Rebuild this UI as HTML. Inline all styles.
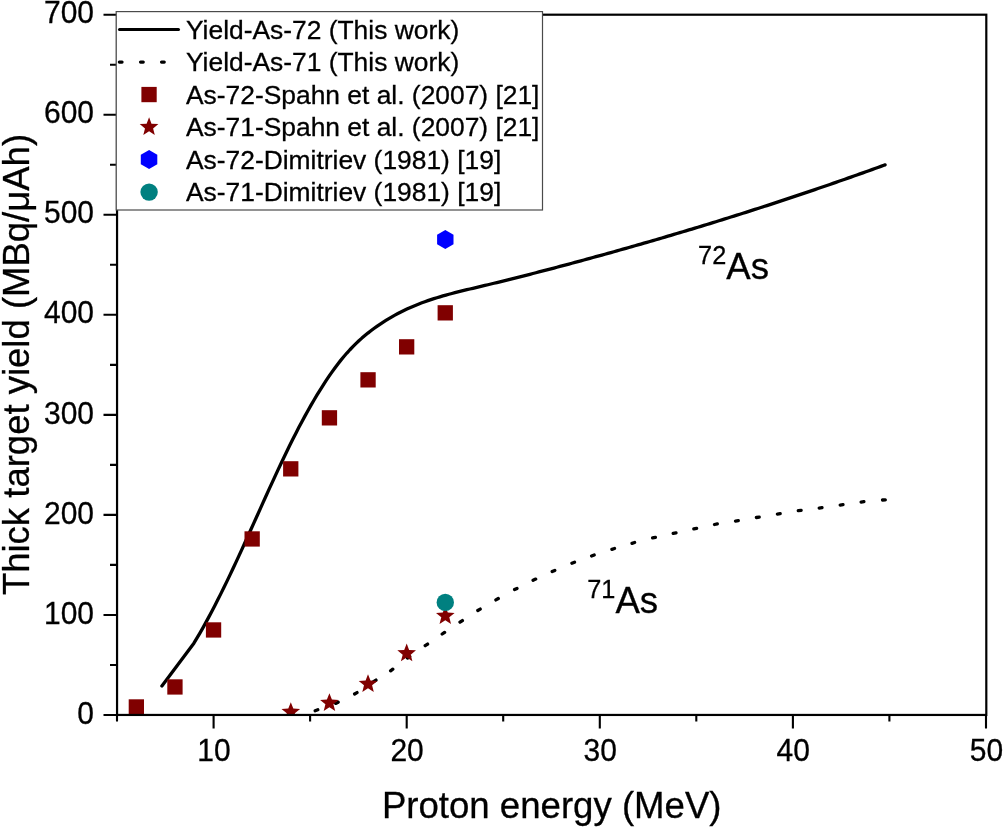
<!DOCTYPE html>
<html><head><meta charset="utf-8"><style>
html,body{margin:0;padding:0;background:#fff;width:1003px;height:828px;overflow:hidden}
svg{display:block}

text{font-family:"Liberation Sans",sans-serif;fill:#000;stroke:#000;stroke-width:0.3px}
</style></head><body>
<div style="will-change:transform;width:1003px;height:828px">
<svg width="1003" height="828" viewBox="0 0 1003 828">
<text x="94" y="0" text-anchor="end" transform="translate(0 723.6) scale(1 1.015)" font-size="30">0</text>
<text x="94" y="0" text-anchor="end" transform="translate(0 623.6) scale(1 1.015)" font-size="30">100</text>
<text x="94" y="0" text-anchor="end" transform="translate(0 523.5) scale(1 1.015)" font-size="30">200</text>
<text x="94" y="0" text-anchor="end" transform="translate(0 423.5) scale(1 1.015)" font-size="30">300</text>
<text x="94" y="0" text-anchor="end" transform="translate(0 323.4) scale(1 1.015)" font-size="30">400</text>
<text x="94" y="0" text-anchor="end" transform="translate(0 223.4) scale(1 1.015)" font-size="30">500</text>
<text x="94" y="0" text-anchor="end" transform="translate(0 123.3) scale(1 1.015)" font-size="30">600</text>
<text x="94" y="0" text-anchor="end" transform="translate(0 23.3) scale(1 1.015)" font-size="30">700</text>
<text x="214.0" y="0" text-anchor="middle" transform="translate(0 761.2) scale(1 1.015)" font-size="30">10</text>
<text x="407.1" y="0" text-anchor="middle" transform="translate(0 761.2) scale(1 1.015)" font-size="30">20</text>
<text x="600.2" y="0" text-anchor="middle" transform="translate(0 761.2) scale(1 1.015)" font-size="30">30</text>
<text x="793.3" y="0" text-anchor="middle" transform="translate(0 761.2) scale(1 1.015)" font-size="30">40</text>
<text x="986.4" y="0" text-anchor="middle" transform="translate(0 761.2) scale(1 1.015)" font-size="30">50</text>
<text x="551.7" y="0" text-anchor="middle" transform="translate(0 817.9) scale(1 1.02)" font-size="36.6">Proton energy (MeV)</text>
<text x="0" y="0" text-anchor="middle" transform="translate(28.8 364.5) rotate(-90) scale(1 1.03)" font-size="36.5">Thick target yield (MBq/μAh)</text>
<defs><clipPath id="pc"><rect x="117" y="15" width="869" height="700"/></clipPath></defs><g clip-path="url(#pc)">
<path d="M161.90 685.90L193.90 643.20L196.90 638.13L199.90 633.04L202.90 627.81L205.90 622.42L208.90 616.90L211.90 611.26L214.90 605.49L217.90 599.61L220.90 593.62L223.90 587.53L226.90 581.35L229.90 575.09L232.90 568.75L235.90 562.34L238.90 555.87L241.90 549.35L244.90 542.78L247.90 536.17L250.90 529.54L253.90 522.88L256.90 516.22L259.90 509.56L262.90 502.91L265.90 496.28L268.90 489.68L271.90 483.11L274.90 476.60L277.90 470.14L280.90 463.75L283.90 457.44L286.90 451.21L289.90 445.08L292.90 439.05L295.90 433.14L298.90 427.35L301.90 421.67L304.90 416.12L307.90 410.70L310.90 405.40L313.90 400.24L316.90 395.20L319.90 390.30L322.90 385.54L325.90 380.92L328.90 376.44L331.90 372.12L334.90 367.96L337.90 363.97L340.90 360.14L343.90 356.50L346.90 353.04L349.90 349.74L352.90 346.61L355.90 343.64L358.90 340.81L361.90 338.11L364.90 335.55L367.90 333.09L370.90 330.75L373.90 328.51L376.90 326.36L379.90 324.29L382.90 322.30L385.90 320.40L388.90 318.57L391.90 316.82L394.90 315.13L397.90 313.52L400.90 311.98L403.90 310.50L406.90 309.08L409.90 307.72L412.90 306.42L415.90 305.17L418.90 303.98L421.90 302.83L424.90 301.73L427.90 300.67L430.90 299.65L433.90 298.68L436.90 297.73L439.90 296.83L442.90 295.95L445.90 295.10L448.90 294.27L451.90 293.47L454.90 292.69L457.90 291.93L460.90 291.18L463.90 290.45L466.90 289.72L469.90 289.01L472.90 288.30L475.90 287.59L478.90 286.88L481.90 286.16L484.90 285.45L487.90 284.73L490.90 284.00L493.90 283.27L496.90 282.54L499.90 281.81L502.90 281.07L505.90 280.33L508.90 279.58L511.90 278.84L514.90 278.08L517.90 277.33L520.90 276.57L523.90 275.81L526.90 275.04L529.90 274.28L532.90 273.51L535.90 272.73L538.90 271.96L541.90 271.18L544.90 270.40L547.90 269.61L550.90 268.82L553.90 268.03L556.90 267.24L559.90 266.44L562.90 265.65L565.90 264.85L568.90 264.04L571.90 263.24L574.90 262.43L577.90 261.62L580.90 260.81L583.90 259.99L586.90 259.18L589.90 258.36L592.90 257.53L595.90 256.71L598.90 255.88L601.90 255.06L604.90 254.22L607.90 253.39L610.90 252.55L613.90 251.72L616.90 250.88L619.90 250.03L622.90 249.19L625.90 248.34L628.90 247.49L631.90 246.64L634.90 245.78L637.90 244.92L640.90 244.06L643.90 243.20L646.90 242.33L649.90 241.47L652.90 240.60L655.90 239.72L658.90 238.85L661.90 237.97L664.90 237.09L667.90 236.20L670.90 235.32L673.90 234.43L676.90 233.54L679.90 232.65L682.90 231.75L685.90 230.85L688.90 229.95L691.90 229.05L694.90 228.14L697.90 227.23L700.90 226.32L703.90 225.40L706.90 224.48L709.90 223.56L712.90 222.64L715.90 221.72L718.90 220.79L721.90 219.86L724.90 218.92L727.90 217.99L730.90 217.05L733.90 216.11L736.90 215.16L739.90 214.21L742.90 213.26L745.90 212.31L748.90 211.35L751.90 210.39L754.90 209.43L757.90 208.47L760.90 207.50L763.90 206.53L766.90 205.56L769.90 204.58L772.90 203.60L775.90 202.62L778.90 201.63L781.90 200.65L784.90 199.66L787.90 198.66L790.90 197.67L793.90 196.67L796.90 195.66L799.90 194.66L802.90 193.65L805.90 192.64L808.90 191.63L811.90 190.61L814.90 189.59L817.90 188.56L820.90 187.54L823.90 186.51L826.90 185.48L829.90 184.44L832.90 183.40L835.90 182.36L838.90 181.31L841.90 180.27L844.90 179.22L847.90 178.16L850.90 177.10L853.90 176.04L856.90 174.98L859.90 173.91L862.90 172.84L865.90 171.77L868.90 170.69L871.90 169.61L874.90 168.53L877.90 167.45L880.90 166.36L883.90 165.26L885.10 164.83" fill="none" stroke="#000" stroke-width="3.3" stroke-linejoin="round" stroke-linecap="round"/>
<path d="M315.2 710.8L317.8 709.8 M335.6 703.4L338.2 702.2 M354.6 694.0L357.0 692.6 M373.6 681.7L376.0 680.1 M390.6 670.8L392.8 669.2 M407.5 658.1L409.7 656.5 M425.2 645.7L427.6 644.1 M442.2 634.0L444.6 632.4 M460.0 622.2L462.4 620.6 M477.8 610.5L480.2 609.1 M495.9 599.9L498.3 598.5 M514.6 589.6L517.0 588.4 M533.1 580.3L535.7 579.1 M552.2 571.6L554.8 570.4 M571.9 563.2L574.5 562.2 M591.6 556.0L594.2 555.0 M611.9 549.3L614.5 548.5 M632.0 543.3L634.6 542.5 M652.6 537.9L655.4 537.3 M673.2 533.4L676.0 532.8 M693.8 528.9L696.6 528.3 M714.5 524.5L717.3 523.9 M735.5 521.1L738.3 520.7 M756.4 517.5L759.2 517.1 M777.4 514.1L780.2 513.7 M798.3 510.7L801.1 510.3 M819.2 508.1L822.0 507.7 M840.2 505.1L843.0 504.7 M861.1 502.1L863.9 501.7 M882.5 500.0L885.3 499.8" fill="none" stroke="#000" stroke-width="3.3" stroke-linecap="round"/>
<rect x="128.7" y="699.3" width="15.3" height="15.3" fill="#800000"/>
<rect x="167.3" y="679.3" width="15.3" height="15.3" fill="#800000"/>
<rect x="205.9" y="622.3" width="15.3" height="15.3" fill="#800000"/>
<rect x="244.5" y="531.3" width="15.3" height="15.3" fill="#800000"/>
<rect x="283.1" y="461.2" width="15.3" height="15.3" fill="#800000"/>
<rect x="321.8" y="410.2" width="15.3" height="15.3" fill="#800000"/>
<rect x="360.4" y="372.2" width="15.3" height="15.3" fill="#800000"/>
<rect x="399.0" y="339.2" width="15.3" height="15.3" fill="#800000"/>
<rect x="437.6" y="305.2" width="15.3" height="15.3" fill="#800000"/>
<polygon points="290.8,702.2 293.3,708.6 300.1,709.0 294.8,713.3 296.6,719.9 290.8,716.2 285.0,719.9 286.8,713.3 281.5,709.0 288.3,708.6" fill="#800000"/>
<polygon points="329.4,693.2 331.9,699.6 338.7,700.0 333.4,704.3 335.2,710.9 329.4,707.2 323.7,710.9 325.4,704.3 320.1,700.0 326.9,699.6" fill="#800000"/>
<polygon points="368.0,674.2 370.5,680.6 377.4,681.0 372.1,685.3 373.8,691.9 368.0,688.2 362.3,691.9 364.0,685.3 358.7,681.0 365.6,680.6" fill="#800000"/>
<polygon points="406.7,643.6 409.1,650.0 416.0,650.3 410.7,654.7 412.4,661.3 406.7,657.6 400.9,661.3 402.7,654.7 397.3,650.3 404.2,650.0" fill="#800000"/>
<polygon points="445.3,606.2 447.8,612.5 454.6,612.9 449.3,617.3 451.0,623.9 445.3,620.2 439.5,623.9 441.3,617.3 436.0,612.9 442.8,612.5" fill="#800000"/>
<polygon points="445.3,230.1 453.5,234.8 453.5,244.3 445.3,249.1 437.1,244.3 437.1,234.8" fill="#0000FF"/>
<circle cx="445.3" cy="602.4" r="8.7" fill="#008080"/>
</g>
<text x="698.1" y="0" transform="translate(0 263.9) scale(1 1.03)" font-size="25.3">72</text>
<text x="726.3" y="0" transform="translate(0 279) scale(1 1.03)" font-size="36.6">As</text>
<text x="587.2" y="0" transform="translate(0 598) scale(1 1.03)" font-size="25.3">71</text>
<text x="615.4" y="0" transform="translate(0 613.1) scale(1 1.03)" font-size="36.6">As</text>
<path d="M103.5 715.0H117 M110.0 665.0H117 M103.5 615.0H117 M110.0 564.9H117 M103.5 514.9H117 M110.0 464.9H117 M103.5 414.9H117 M110.0 364.9H117 M103.5 314.8H117 M110.0 264.8H117 M103.5 214.8H117 M110.0 164.8H117 M103.5 114.7H117 M110.0 64.7H117 M103.5 14.7H117 M117.0 715V721.5 M213.6 715V728.5 M310.1 715V721.5 M406.7 715V728.5 M503.2 715V721.5 M599.8 715V728.5 M696.3 715V721.5 M792.9 715V728.5 M889.4 715V721.5 M986.0 715V728.5" stroke="#000" stroke-width="2.1" fill="none"/>
<rect x="117.05" y="14.7" width="869.25" height="700.25" stroke="#000" stroke-width="2.2" fill="none"/>
<rect x="116.2" y="11.6" width="426.3" height="198.4" fill="#fff" stroke="#4a4a4a" stroke-width="1.2"/>
<path d="M119.5 29.6H178.5" stroke="#000" stroke-width="3" stroke-linecap="round"/>
<path d="M119.3 62.1H122.1 M140.5 62.1H143.3 M161.5 62.1H164.3" stroke="#000" stroke-width="3.1" stroke-linecap="round"/>
<rect x="141.4" y="86.9" width="15.3" height="15.3" fill="#800000"/>
<polygon points="149.1,117.3 151.5,123.7 158.4,124.1 153.1,128.4 154.8,135.0 149.1,131.3 143.3,135.0 145.0,128.4 139.7,124.1 146.6,123.7" fill="#800000"/>
<polygon points="149.1,150.1 157.3,154.8 157.3,164.3 149.1,169.1 140.8,164.3 140.8,154.8" fill="#0000FF"/>
<circle cx="149.1" cy="192.1" r="8.7" fill="#008080"/>
<text x="186" y="0" transform="translate(0 39.0) scale(1 1.01)" font-size="26.4">Yield-As-72 (This work)</text>
<text x="186" y="0" transform="translate(0 71.4) scale(1 1.01)" font-size="26.4">Yield-As-71 (This work)</text>
<text x="186" y="0" transform="translate(0 103.8) scale(1 1.01)" font-size="26.4">As-72-Spahn et al. (2007) [21]</text>
<text x="186" y="0" transform="translate(0 136.2) scale(1 1.01)" font-size="26.4">As-71-Spahn et al. (2007) [21]</text>
<text x="186" y="0" transform="translate(0 168.6) scale(1 1.01)" font-size="26.4">As-72-Dimitriev (1981) [19]</text>
<text x="186" y="0" transform="translate(0 201.0) scale(1 1.01)" font-size="26.4">As-71-Dimitriev (1981) [19]</text>
</svg>
</div>
</body></html>
